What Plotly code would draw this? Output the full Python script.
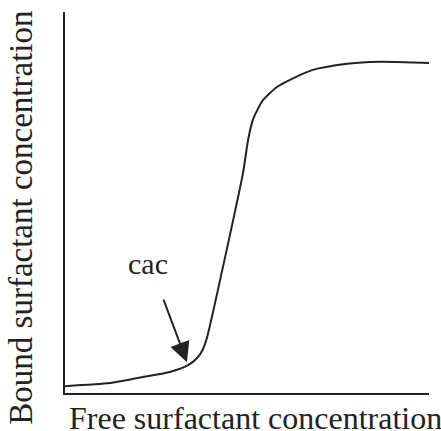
import plotly.graph_objects as go

# Curve (free vs bound surfactant concentration), arbitrary units 0-100
free_conc = [0, 12.4, 21.4, 28.8, 33.8, 36.3, 37.8, 39.0, 43.4, 46.2, 48.9, 50.3,
             51.6, 54.4, 58.2, 61.8, 68.1, 77.5, 83.8, 91.2, 101.1]
bound_conc = [1.8, 2.6, 4.2, 5.5, 7.3, 9.2, 11.3, 14.5, 33.1, 45.4, 57.7, 66.4,
              71.7, 76.9, 80.3, 82.2, 84.8, 86.4, 86.9, 86.9, 86.6]

cac_x = 33.5
cac_y = 8.1

x_label = "Free surfactant concentration"
y_label = "Bound surfactant concentration"
cac_label = "cac"

FONT = "Liberation Serif, Times New Roman, serif"
INK = "#222222"

fig = go.Figure()
fig.add_trace(go.Scatter(
    x=free_conc, y=bound_conc, mode="lines",
    line=dict(color=INK, width=2, shape="spline", smoothing=0.6),
    cliponaxis=False, hoverinfo="skip", showlegend=False,
))

fig.add_annotation(x=cac_x, y=cac_y, xref="x", yref="y", text="",
                   showarrow=True, arrowhead=2, arrowsize=2, arrowwidth=2,
                   arrowcolor=INK, ax=-24, ay=-64, axref="pixel", ayref="pixel")
fig.add_annotation(x=0.227, y=0.34, xref="paper", yref="paper", text=cac_label,
                   showarrow=False, xanchor="center", yanchor="middle",
                   font=dict(family=FONT, size=30, color=INK))
fig.add_annotation(x=0.005, y=-0.013, xref="paper", yref="paper", text=x_label,
                   showarrow=False, xanchor="left", yanchor="top",
                   font=dict(family=FONT, size=32, color=INK))
fig.add_annotation(x=-0.12, y=0.461, xref="paper", yref="paper", text=y_label,
                   showarrow=False, xanchor="center", yanchor="middle", textangle=-90,
                   font=dict(family=FONT, size=33, color=INK))

axis_common = dict(showgrid=False, zeroline=False, showticklabels=False, ticks="",
                   showline=True, linecolor=INK, linewidth=2, fixedrange=True)
fig.update_xaxes(range=[0, 100], **axis_common)
fig.update_yaxes(range=[0, 100], **axis_common)

fig.update_layout(
    width=441, height=431, autosize=False,
    margin=dict(l=65, r=12, t=12, b=38, pad=0),
    plot_bgcolor="white", paper_bgcolor="white",
    font=dict(family=FONT, color=INK),
)

fig.write_html("out.html", config={"displayModeBar": False},
               post_script="document.body.style.margin='0';document.body.style.overflow='hidden';")
